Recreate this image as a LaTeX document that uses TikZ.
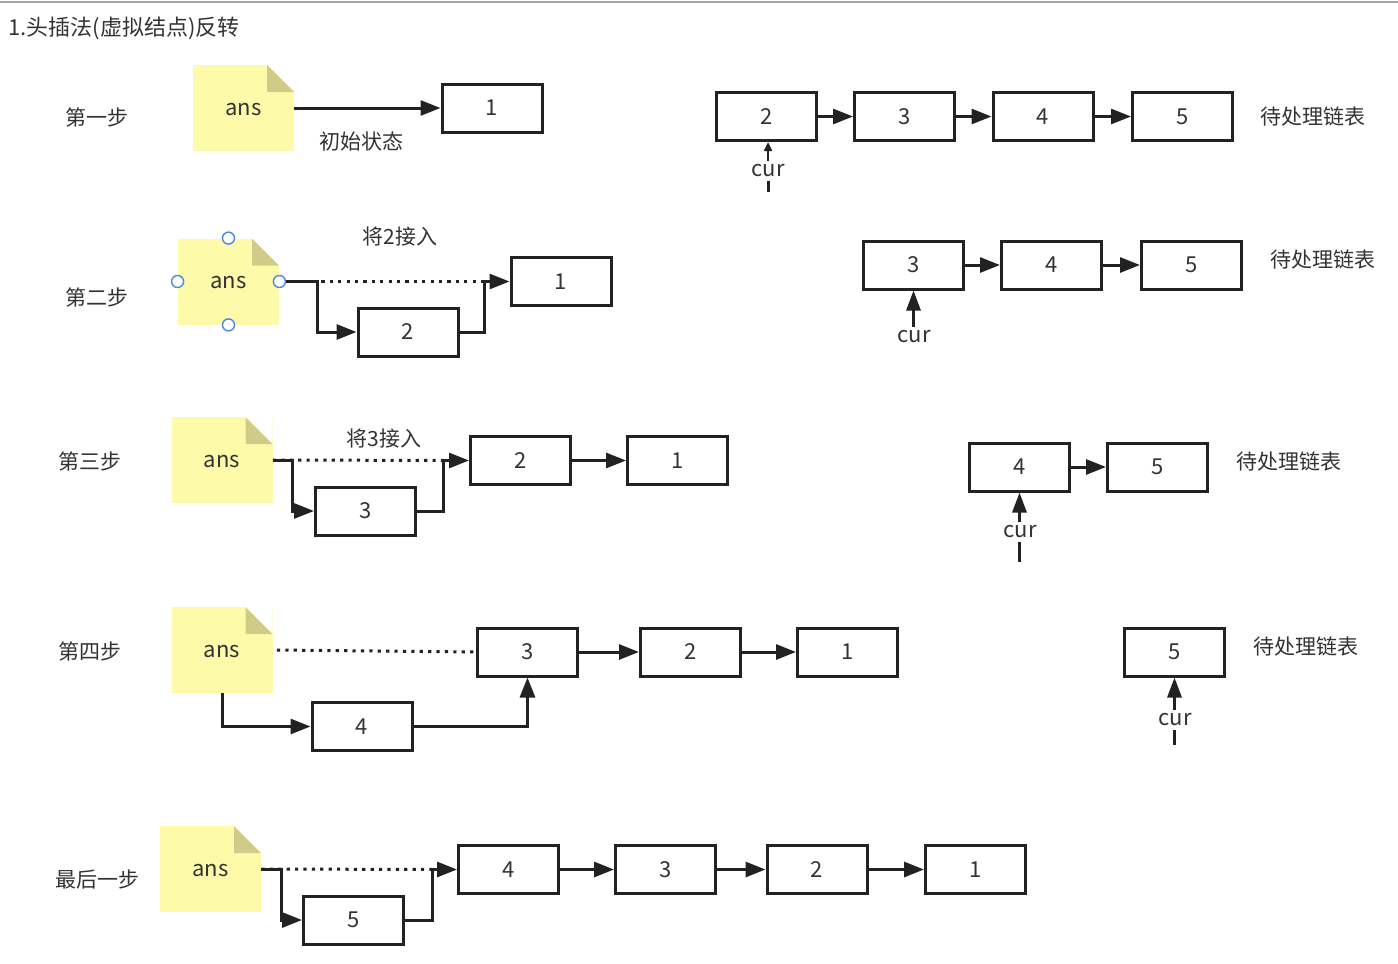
\documentclass[tikz,border=0pt]{standalone}
\usepackage{fontspec}
\setmainfont{Noto Sans CJK SC}
\usetikzlibrary{arrows.meta}
\definecolor{txt}{HTML}{333333}
\definecolor{noteyellow}{RGB}{253,250,170}
\definecolor{fold}{RGB}{208,204,136}
\definecolor{handle}{HTML}{4A86E8}
\definecolor{ink}{HTML}{222222}
\begin{document}
\begin{tikzpicture}[x=0.5pt,y=-0.5pt,
  lbl/.style={text=txt,font=\fontsize{10.5}{12}\selectfont,inner sep=0},
  numbox/.style={draw=ink,line width=1.5pt,minimum width=50pt,minimum height=24pt,inner sep=0,text=txt,font=\fontsize{11}{12}\selectfont},
  note/.style={minimum width=50.5pt,minimum height=43pt,inner sep=0,fill=noteyellow,text=txt,text height=0.72em,text depth=0pt,font=\fontsize{11}{12}\selectfont,
    path picture={
      \fill[white] ([xshift=-13.5pt]path picture bounding box.north east) -- (path picture bounding box.north east) -- ([yshift=-13.5pt]path picture bounding box.north east) -- cycle;
      \fill[fold] ([xshift=-13.5pt]path picture bounding box.north east) -- ([xshift=-13.5pt,yshift=-13.5pt]path picture bounding box.north east) -- ([yshift=-13.5pt]path picture bounding box.north east) -- cycle;}},
  arr/.style={-{Triangle[length=10pt,width=7.5pt]},line width=1.5pt,draw=ink},
  smallarr/.style={-{Triangle[length=4.5pt,width=4pt]},line width=1.2pt,draw=ink},
  curarr/.style={-{Triangle[length=10pt,width=7pt]},line width=1.5pt,draw=ink},
  curline/.style={line width=1.5pt,draw=ink},
  dotline/.style={draw=ink,line width=1.5pt,dash pattern=on 1.6pt off 2.6pt},
  curlbl/.style={text=txt,font=\fontsize{11}{12}\selectfont,inner sep=1.5pt},
  hdl/.style={circle,draw=handle,fill=white,line width=0.7pt,minimum size=6pt,inner sep=0}]
\useasboundingbox (0,0) rectangle (1398,964);
\fill[white] (0,0) rectangle (1398,964);
\draw[black!35,line width=1pt] (0,2) -- (1398,2);
\node[lbl,anchor=west,font=\fontsize{11}{12}\selectfont] (title) at (8,28) {1.头插法(虚拟结点)反转};

% ---------- Step 1 ----------
\node[lbl] (st1) at (97,117) {第一步};
\node[note] (s1ans) at (243.5,108) {ans};
\node[numbox] (s1b1) at (492,108) {1};
\draw[arr] (s1ans.east) -- (s1b1.west);
\node[lbl] (s1init) at (361,141) {初始状态};
\node[numbox] (s1l2) at (766.5,116.5) {2};
\node[numbox] (s1l3) at (904.5,116.5) {3};
\node[numbox] (s1l4) at (1043,116.5) {4};
\node[numbox] (s1l5) at (1182.5,116.5) {5};
\draw[arr] (s1l2) -- (s1l3);
\draw[arr] (s1l3) -- (s1l4);
\draw[arr] (s1l4) -- (s1l5);
\node[lbl] (s1todo) at (1313,116) {待处理链表};
\node[curlbl] (s1cur) at (768,171) {cur};
\coordinate (s1c) at (768,192);
\draw[curline] (s1c) -- (s1cur.south -| s1c);
\draw[smallarr] (s1cur.north -| s1c) -- (s1c |- s1l2.south);

% ---------- Step 2 ----------
\node[lbl] (st2) at (97,297) {第二步};
\node[note] (s2ans) at (228.5,281.5) {ans};
\node[numbox] (s2b1) at (561,281.5) {1};
\node[numbox] (s2b2) at (408,332) {2};
\node[lbl] (s2join) at (400,237) {将2接入};
\draw[dotline] (s2ans.east) -- ([xshift=-8pt]s2b1.west);
\draw[arr] (s2ans.east) -- ++(38,0) |- (s2b2.west);
\draw[arr] (s2b2.east) -- ++(25,0) |- (s2b1.west);
\node[hdl] (h1) at (s2ans.north) {};
\node[hdl] (h2) at (s2ans.south) {};
\node[hdl] (h3) at (s2ans.west) {};
\node[hdl] (h4) at (s2ans.east) {};
\node[numbox] (s2l3) at (913.5,265) {3};
\node[numbox] (s2l4) at (1051.5,265) {4};
\node[numbox] (s2l5) at (1191.5,265) {5};
\draw[arr] (s2l3) -- (s2l4);
\draw[arr] (s2l4) -- (s2l5);
\node[lbl] (s2todo) at (1323,259) {待处理链表};
\node[curlbl] (s2cur) at (914,337) {cur};
\draw[curarr] (s2cur.north -| s2l3.south) -- (s2l3.south);

% ---------- Step 3 ----------
\node[lbl] (st3) at (90,461) {第三步};
\node[note] (s3ans) at (222,460) {ans};
\node[numbox] (s3b3) at (365.5,511) {3};
\node[numbox] (s3b2) at (520.5,460.5) {2};
\node[numbox] (s3b1) at (677.5,460.5) {1};
\node[lbl] (s3join) at (384,439) {将3接入};
\draw[dotline] (s3ans.east) -- ([xshift=-8pt]s3b2.west);
\draw[arr] (s3ans.east) -- ++(20,0) |- (s3b3.west);
\draw[arr] (s3b3.east) -- ++(26,0) |- (s3b2.west);
\draw[arr] (s3b2) -- (s3b1);
\node[numbox] (s3l4) at (1019.5,467) {4};
\node[numbox] (s3l5) at (1157.5,467) {5};
\draw[arr] (s3l4) -- (s3l5);
\node[lbl] (s3todo) at (1289,461) {待处理链表};
\node[curlbl] (s3cur) at (1020,532) {cur};
\coordinate (s3c) at (1019.5,562);
\draw[curline] (s3c) -- (s3cur.south -| s3c);
\draw[curarr] (s3cur.north -| s3c) -- (s3l4.south);

% ---------- Step 4 ----------
\node[lbl] (st4) at (90,651) {第四步};
\node[note] (s4ans) at (222,650) {ans};
\node[numbox] (s4b3) at (527.5,652) {3};
\node[numbox] (s4b2) at (690.5,652) {2};
\node[numbox] (s4b1) at (847.5,652) {1};
\node[numbox] (s4b4) at (362,726.5) {4};
\draw[dotline] ([xshift=2pt]s4ans.east) -- (s4b3.west);
\draw[arr] (s4ans.south) |- (s4b4.west);
\draw[arr] (s4b4.east) -| (s4b3.south);
\draw[arr] (s4b3) -- (s4b2);
\draw[arr] (s4b2) -- (s4b1);
\node[numbox] (s4l5) at (1174.5,652) {5};
\node[lbl] (s4todo) at (1306,646) {待处理链表};
\node[curlbl] (s4cur) at (1175,720) {cur};
\coordinate (s4c) at (1174.5,745);
\draw[curline] (s4c) -- (s4cur.south -| s4c);
\draw[curarr] (s4cur.north -| s4c) -- (s4l5.south);

% ---------- Step 5 ----------
\node[lbl] (st5) at (97,880) {最后一步};
\node[note] (s5ans) at (210.5,869) {ans};
\node[numbox] (s5b5) at (353.5,920) {5};
\node[numbox] (s5b4) at (508.5,869.5) {4};
\node[numbox] (s5b3) at (665.5,869.5) {3};
\node[numbox] (s5b2) at (817,869.5) {2};
\node[numbox] (s5b1) at (975.5,869.5) {1};
\draw[dotline] (s5ans.east) -- ([xshift=-8pt]s5b4.west);
\draw[arr] (s5ans.east) -- ++(20,0) |- (s5b5.west);
\draw[arr] (s5b5.east) -- ++(27,0) |- (s5b4.west);
\draw[arr] (s5b4) -- (s5b3);
\draw[arr] (s5b3) -- (s5b2);
\draw[arr] (s5b2) -- (s5b1);
\end{tikzpicture}
\end{document}
